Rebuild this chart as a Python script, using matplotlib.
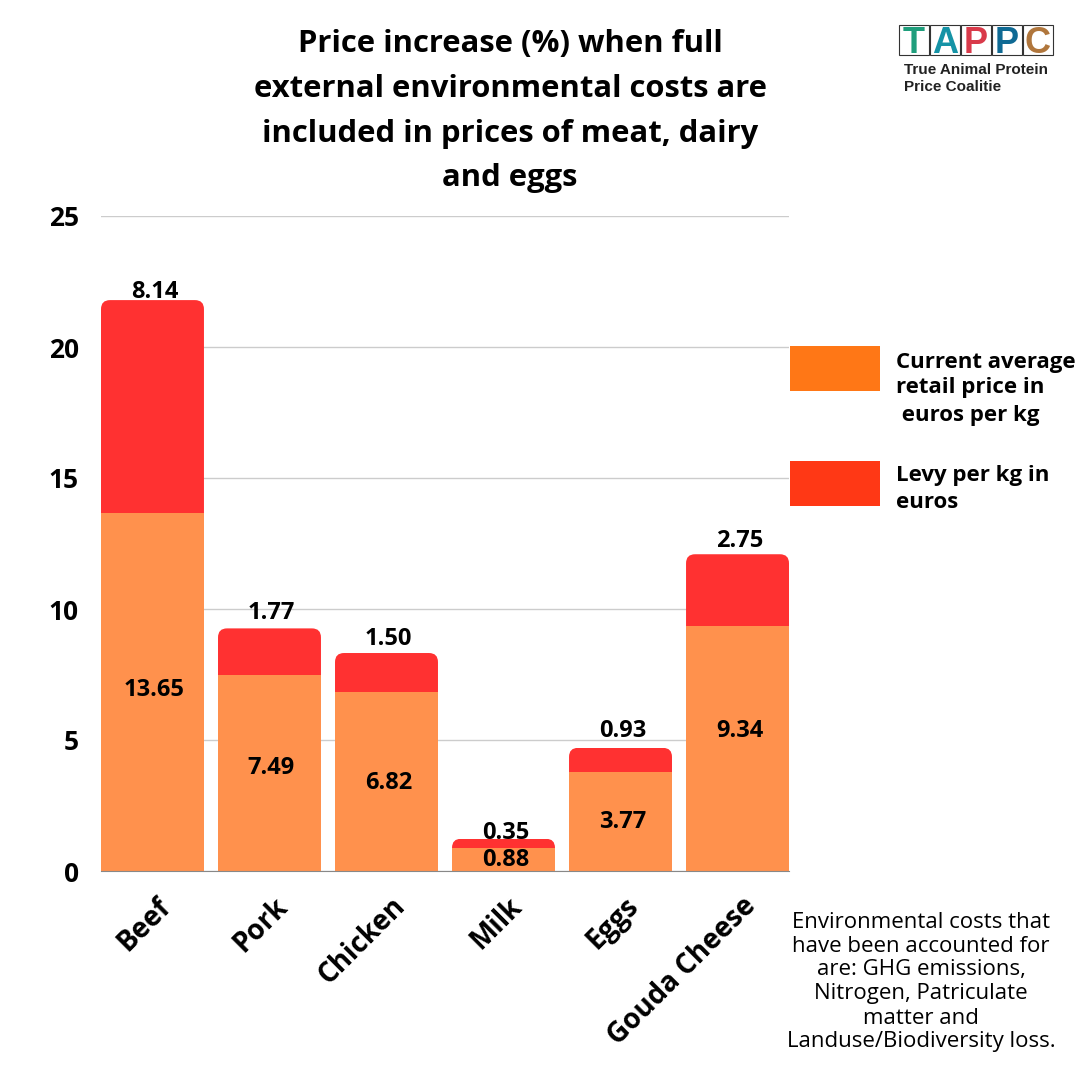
import matplotlib
matplotlib.use('Agg')
import matplotlib.pyplot as plt
from matplotlib.patches import Rectangle, FancyBboxPatch

categories = ['Beef', 'Pork', 'Chicken', 'Milk', 'Eggs', 'Gouda Cheese']
retail_price = [13.65, 7.49, 6.82, 0.88, 3.77, 9.34]
levy = [8.14, 1.77, 1.50, 0.35, 0.93, 2.75]
y_ticks = [0, 5, 10, 15, 20, 25]

title_lines = ['Price increase (%) when full',
               'external environmental costs are',
               'included in prices of meat, dairy',
               'and eggs']
note_lines = ['Environmental costs that',
              'have been accounted for',
              'are: GHG emissions,',
              'Nitrogen, Patriculate',
              'matter and',
              'Landuse/Biodiversity loss.']
logo_letters = ['T', 'A', 'P', 'P', 'C']
logo_colors = ['#1F9E7C', '#1593A6', '#D93A4A', '#0F6A94', '#B0763C']

W = 1080
ORANGE = '#FF914D'
RED = '#FF3131'
PX = 72 / 100  # pixels to points at dpi 100

plt.rcParams['font.family'] = ['Open Sans', 'DejaVu Sans']

fig = plt.figure(figsize=(10.8, 10.8), dpi=100)
ax = fig.add_axes([101 / W, (W - 871) / W, 688 / W, 655 / W])
ax.set_xlim(-0.44, 5.44)
ax.set_ylim(0, 25)


def fx(x):
    return x / W


def fy(y):
    return 1 - y / W


# size of one pixel in data units, for the rounded corners
px_x = 5.88 / 688
px_y = 25 / 655
radius = 9 * px_x

x_pos = list(range(len(categories)))
ax.bar(x_pos, retail_price, width=0.88, color=ORANGE, zorder=3)
red_bars = ax.bar(x_pos, levy, width=0.88, bottom=retail_price, color=RED, zorder=3)

# red bars only round at the top: clip them with a rounded box that runs lower
for bar in red_bars:
    clip = FancyBboxPatch((bar.get_x(), -2), bar.get_width(), bar.get_y() + bar.get_height() + 2,
                          boxstyle='round,pad=0,rounding_size=%f' % radius,
                          mutation_aspect=px_y / px_x, transform=ax.transData)
    bar.set_clip_path(clip)

# value labels, offsets in pixels from bar top / bar middle
top_offset = [8, 15, 14, 6, 17, 13]
mid_offset = [2, 5, -1, -1, 0, 18]
for i in x_pos:
    total = retail_price[i] + levy[i]
    ax.annotate('%.2f' % levy[i], (i + 2 * px_x, total), xytext=(0, top_offset[i] * PX), textcoords='offset points',
                ha='center', va='center', fontsize=17, fontweight='bold', color='black', zorder=5)
    ax.annotate('%.2f' % retail_price[i], (i + 2 * px_x, retail_price[i] / 2), xytext=(0, mid_offset[i] * PX),
                textcoords='offset points', ha='center', va='center', fontsize=17,
                fontweight='bold', color='black', zorder=5)

ax.set_yticks(y_ticks)
ax.set_yticklabels([str(t) for t in y_ticks], fontsize=19, fontweight='bold')
ax.tick_params(axis='y', length=0, pad=16)
ax.yaxis.grid(True, color='#CCCCCC', linewidth=1, zorder=0)
ax.set_axisbelow(True)
for s in ['top', 'right', 'left']:
    ax.spines[s].set_visible(False)
ax.spines['bottom'].set_color('#888888')
ax.spines['bottom'].set_zorder(6)

ax.set_xticks(x_pos)
ax.set_xticklabels(categories, rotation=45, ha='right', va='top', rotation_mode='anchor',
                   fontsize=20, fontweight='bold')
ax.tick_params(axis='x', length=0, pad=15)
# nudge the rotated labels to the right
for lab in ax.get_xticklabels():
    lab.set_transform(lab.get_transform() + matplotlib.transforms.ScaledTranslation(4 / 100, 0, fig.dpi_scale_trans))

# title
for line, y in zip(title_lines, [44, 89, 134, 178]):
    fig.text(fx(510), fy(y), line, ha='center', va='center', fontsize=22.3, fontweight='bold')

# legend drawn by hand, to the right of the axes
fig.add_artist(Rectangle((fx(790), fy(391)), 90 / W, 45 / W, transform=fig.transFigure,
                         color='#FF7716', lw=0))
fig.add_artist(Rectangle((fx(790), fy(506)), 90 / W, 45 / W, transform=fig.transFigure,
                         color='#FF3815', lw=0))
for text, y in [('Current average', 362), ('retail price in', 388), (' euros per kg', 415),
                ('Levy per kg in', 476), ('euros', 502)]:
    fig.text(fx(896), fy(y), text, ha='left', va='center', fontsize=16, fontweight='bold')

# note
for line, y in zip(note_lines, [922, 946, 970, 994, 1018, 1042]):
    fig.text(fx(921), fy(y), line, ha='center', va='center', fontsize=16, fontweight='normal')

# logo
box_x = [899, 930, 961, 992, 1023]
for letter, color, x in zip(logo_letters, logo_colors, box_x):
    fig.add_artist(Rectangle((fx(x), fy(55)), 30 / W, 30 / W, transform=fig.transFigure,
                             facecolor='white', edgecolor='#333333', lw=0.8))
    fig.text(fx(x + 15), fy(53), letter, ha='center', va='baseline', fontsize=26, fontweight='bold',
             color=color, family=['Liberation Sans', 'DejaVu Sans'])
fig.text(fx(904), fy(70), 'True Animal Protein', ha='left', va='center', fontsize=11, fontweight='bold',
         family=['Liberation Sans', 'DejaVu Sans'], color='#222222')
fig.text(fx(904), fy(87), 'Price Coalitie', ha='left', va='center', fontsize=11, fontweight='bold',
         family=['Liberation Sans', 'DejaVu Sans'], color='#222222')

fig.savefig('out.png', dpi=100)
